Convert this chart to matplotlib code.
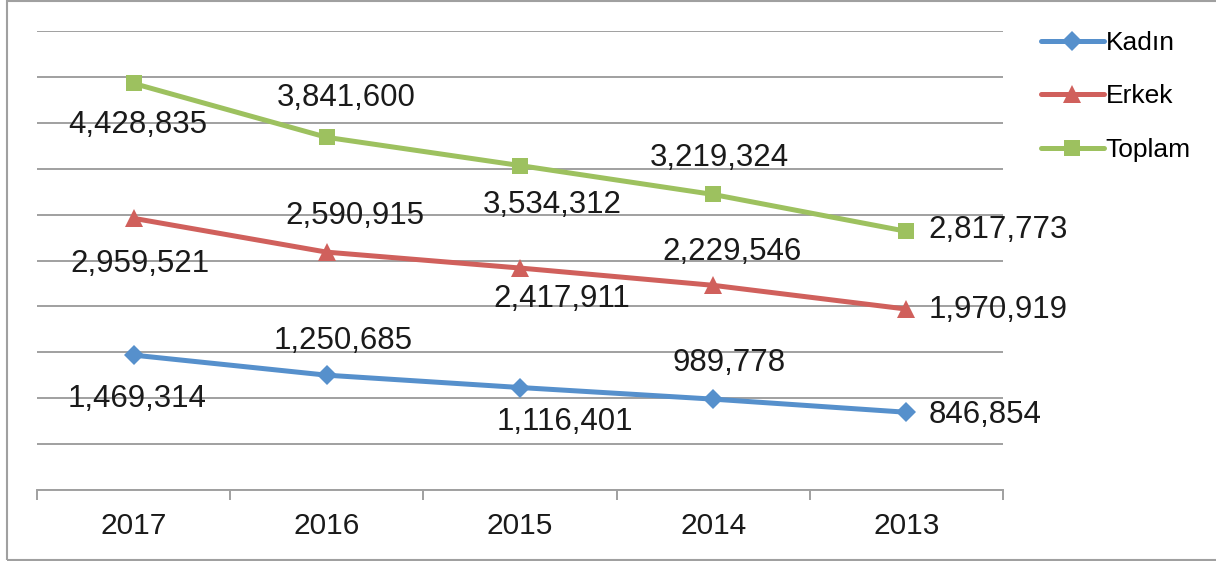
import matplotlib
matplotlib.use('Agg')
import matplotlib.pyplot as plt
from matplotlib.patches import Rectangle
from matplotlib.ticker import MultipleLocator, FixedLocator, NullFormatter

plt.rcParams['font.family'] = ['Liberation Sans', 'DejaVu Sans']

years = ['2017', '2016', '2015', '2014', '2013']
kadin = [1469314, 1250685, 1116401, 989778, 846854]
erkek = [2959521, 2590915, 2417911, 2229546, 1970919]
toplam = [4428835, 3841600, 3534312, 3219324, 2817773]

# label offsets in pixels (dx, dy) per point, last one goes to the right
offsets = {
    'Kadın': [(3, -44), (16, 34), (45, -34), (16, 36), (22, -3)],
    'Erkek': [(6, -46), (28, 36), (42, -31), (19, 33), (22, -1)],
    'Toplam': [(4, -42), (19, 39), (32, -39), (6, 36), (22, 1)],
}

series = [
    ('Kadın', kadin, '#5690CC', 'D', 10),
    ('Erkek', erkek, '#D0605C', '^', 12.5),
    ('Toplam', toplam, '#9DC15F', 's', 11),
]

fig = plt.figure(figsize=(12.16, 5.61), dpi=100)
ax = fig.add_axes([37 / 1216, 1 - 490 / 561, (1003 - 37) / 1216, (490 - 31) / 561])

x = list(range(len(years)))
for name, vals, color, marker, ms in series:
    ax.plot(x, vals, color=color, lw=3.6, marker=marker, markersize=ms,
            markeredgewidth=0, label=name, solid_capstyle='round', zorder=3)
    for i, v in enumerate(vals):
        dx, dy = offsets[name][i]
        ha = 'left' if i == len(vals) - 1 else 'center'
        ax.annotate(f'{v:,}', (i, v), xytext=(dx, dy), textcoords='offset pixels',
                    ha=ha, va='center', fontsize=22.5, color='#1a1a1a', zorder=4)

ax.set_xlim(-0.5, 4.5)
ax.set_ylim(0, 5000000)
ax.yaxis.set_major_locator(MultipleLocator(500000))
ax.grid(axis='y', color='#A0A0A0', lw=1.4)
ax.set_axisbelow(True)
ax.tick_params(axis='y', left=False, labelleft=False)

ax.set_xticks(x)
ax.set_xticklabels(years, fontsize=21.5, color='#1a1a1a')
ax.xaxis.set_minor_locator(FixedLocator([-0.5, 0.5, 1.5, 2.5, 3.5, 4.5]))
ax.xaxis.set_minor_formatter(NullFormatter())
ax.tick_params(axis='x', which='major', length=0, pad=16)
ax.tick_params(axis='x', which='minor', length=7, width=1.4, color='#A0A0A0', direction='out')

for s in ['top', 'right', 'left']:
    ax.spines[s].set_visible(False)
ax.spines['bottom'].set_color('#A0A0A0')
ax.spines['bottom'].set_linewidth(1.4)

fig.legend(loc='upper left', bbox_to_anchor=(1017 / 1216, 1 - 7 / 561), frameon=False,
           fontsize=19, handlelength=2.4, labelspacing=1.12, handletextpad=0.05)

fig.patches.append(Rectangle((7 / 1216, 1 / 561), 1.2, 1 - 2 / 561, transform=fig.transFigure,
                             fill=False, edgecolor='#A0A0A0', lw=1.5))

plt.savefig('out.png', dpi=100)
